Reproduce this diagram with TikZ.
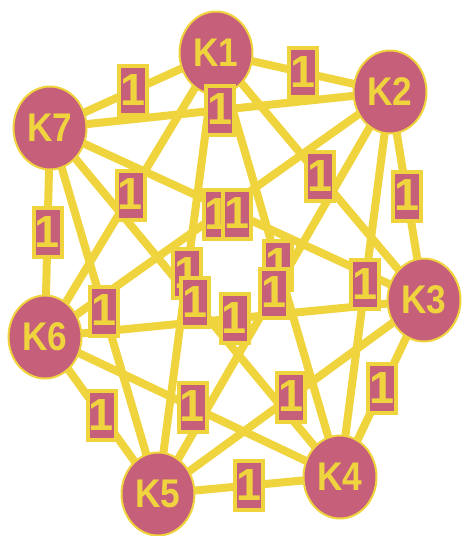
\documentclass[tikz,border=0pt]{standalone}
\usepackage{fontspec}
\setmainfont{Liberation Sans}
\usetikzlibrary{shapes.geometric}
\definecolor{pinkfill}{RGB}{198,96,122}
\definecolor{yel}{RGB}{240,212,62}
\pgfdeclarelayer{edgelayer}
\pgfsetlayers{edgelayer,main}
\tikzset{
  knode/.style={ellipse, draw=yel, line width=2pt, fill=pinkfill, inner sep=0pt,
    minimum width=73pt, minimum height=83pt, text=yel,
    font=\fontsize{40}{40}\selectfont\bfseries},
  edgeline/.style={draw=yel, line width=8pt},
  lbl/.style={rectangle, draw=yel, line width=4pt, fill=pinkfill, inner sep=0pt,
    minimum width=28pt, minimum height=49pt, text=yel,
    font=\fontsize{45}{45}\selectfont\bfseries}
}
\newcommand{\ktext}[1]{\scalebox{0.88}[1]{#1}}
\begin{document}
\begin{tikzpicture}[x=1pt,y=-1pt]
\useasboundingbox (0,0) rectangle (461,536);
\node[knode] (K1) at (216,53) {\ktext{K1}};
\node[knode] (K2) at (390,92) {\ktext{K2}};
\node[knode] (K3) at (424,300) {\ktext{K3}};
\node[knode] (K4) at (340,477) {\ktext{K4}};
\node[knode] (K5) at (158,494) {\ktext{K5}};
\node[knode] (K6) at (45,337) {\ktext{K6}};
\node[knode] (K7) at (50,128) {\ktext{K7}};
\begin{pgfonlayer}{edgelayer}
\foreach \a/\b in {K1/K2,K1/K3,K1/K4,K1/K5,K1/K6,K1/K7,K2/K3,K2/K4,K2/K5,K2/K6,K2/K7,K3/K4,K3/K5,K3/K6,K3/K7,K4/K5,K4/K6,K4/K7,K5/K6,K5/K7,K6/K7}
  \draw[edgeline] (\a.center) -- (\b.center);
\end{pgfonlayer}
\foreach \a/\b in {K1/K2,K1/K3,K1/K6,K1/K7,K2/K3,K2/K7,K1/K5,K2/K6,K3/K7,K1/K4,K2/K4,K2/K5,K4/K7,K3/K6,K3/K4,K3/K5,K4/K5,K4/K6,K5/K6,K5/K7,K6/K7}
  \path (\a.center) -- node[lbl] (L\a\b) {\raisebox{1pt}{1}} (\b.center);
\end{tikzpicture}
\end{document}
